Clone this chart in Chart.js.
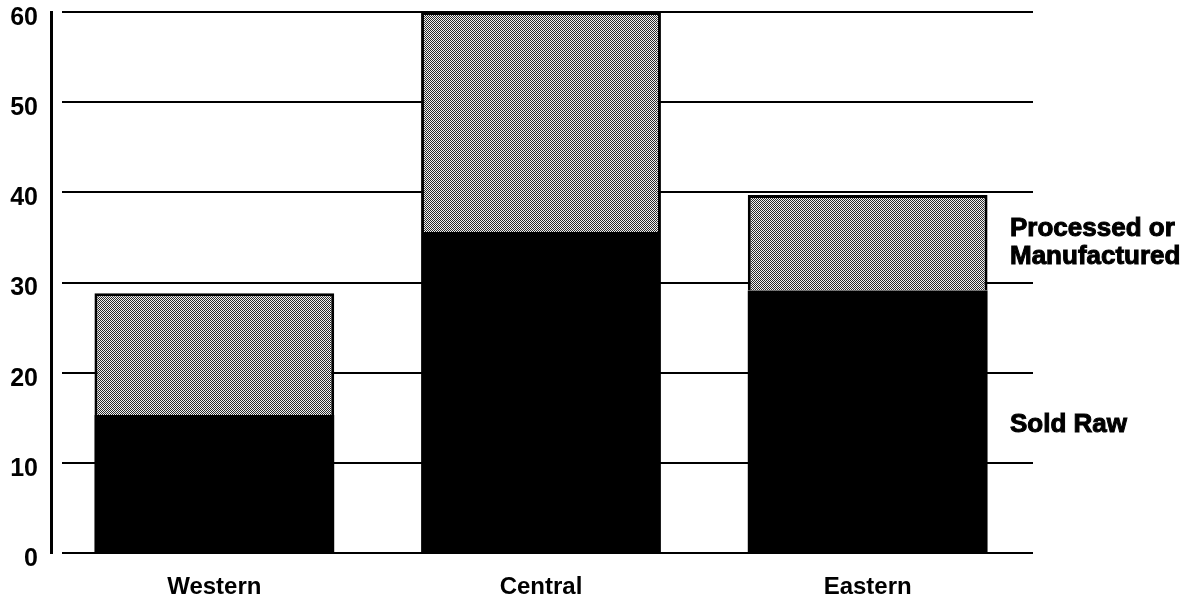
<!DOCTYPE html>
<html>
<head>
<meta charset="utf-8">
<script src="https://cdn.jsdelivr.net/npm/chart.js@4"></script>
<style>
  html, body { margin: 0; padding: 0; background: #fff; }
  #wrap { width: 1194px; height: 607px; }
</style>
</head>
<body>
<div id="wrap"><canvas id="c" width="1194" height="607"></canvas></div>
<script>
const categories = ["Western", "Central", "Eastern"];
const soldRaw = [15.3, 35.6, 29.1];
const processed = [13.5, 24.4, 10.6];
const yTicks = [0, 10, 20, 30, 40, 50, 60];
const seriesNames = ["Sold Raw", "Processed or Manufactured"];

function makePattern() {
  const p = document.createElement('canvas');
  p.width = 2; p.height = 2;
  const g = p.getContext('2d');
  g.fillStyle = '#f2f2f2'; g.fillRect(0, 0, 2, 2);
  g.fillStyle = '#2a2a2a';
  g.fillRect(0, 0, 1, 1);
  g.fillRect(1, 1, 1, 1);
  return document.getElementById('c').getContext('2d').createPattern(p, 'repeat');
}

const FONT = '"Liberation Sans", Arial, Helvetica, sans-serif';

const gridPlugin = {
  id: 'customGrid',
  beforeDatasetsDraw(chart) {
    const {ctx, chartArea, scales} = chart;
    ctx.save();
    ctx.strokeStyle = '#000';
    ctx.lineWidth = 2;
    yTicks.forEach(v => {
      const y = Math.round(scales.y.getPixelForValue(v));
      ctx.beginPath();
      ctx.moveTo(chartArea.left + 11, y);
      ctx.lineTo(chartArea.right + 2, y);
      ctx.stroke();
    });
    ctx.restore();
  }
};

const labelPlugin = {
  id: 'sideLabels',
  afterDraw(chart) {
    const {ctx, chartArea, scales} = chart;
    ctx.save();
    ctx.fillStyle = '#000';
    ctx.strokeStyle = '#000';
    ctx.lineWidth = 1;
    ctx.font = 'bold 26px ' + FONT;
    ctx.textBaseline = 'middle';
    ctx.textAlign = 'left';
    const x = chartArea.right - 21;
    const items = [['Processed or', 36.0], ['Manufactured', 32.8], [seriesNames[0], 14.2]];
    items.forEach(([t, v]) => {
      const y = scales.y.getPixelForValue(v);
      ctx.fillText(t, x, y);
      ctx.strokeText(t, x, y);
    });
    ctx.restore();
  }
};

const pattern = makePattern();

new Chart(document.getElementById('c'), {
  type: 'bar',
  data: {
    labels: categories,
    datasets: [
      {
        label: seriesNames[0],
        data: soldRaw,
        backgroundColor: '#000',
        borderWidth: 0,
        barPercentage: 0.734,
        categoryPercentage: 1.0
      },
      {
        label: seriesNames[1],
        data: processed,
        backgroundColor: pattern,
        borderColor: '#000',
        borderWidth: {top: 3, left: 3, right: 3, bottom: 0},
        borderSkipped: false,
        barPercentage: 0.734,
        categoryPercentage: 1.0
      }
    ]
  },
  options: {
    responsive: false,
    animation: false,
    devicePixelRatio: 1,
    layout: { padding: { top: 12, right: 163, left: 0, bottom: 0 } },
    plugins: {
      legend: { display: false },
      tooltip: { enabled: false }
    },
    scales: {
      x: {
        stacked: true,
        grid: { display: false, drawTicks: false },
        border: { display: false },
        ticks: {
          color: '#000',
          font: { family: FONT, size: 24, weight: 'bold' },
          padding: 20
        },
        afterFit(s) { s.height = 54; s.paddingLeft = 0; s.paddingRight = 0; }
      },
      y: {
        stacked: true,
        min: 0,
        max: 60,
        grid: { display: false, drawTicks: false },
        border: { display: true, color: '#000', width: 3 },
        ticks: {
          stepSize: 10,
          color: '#000',
          font: { family: FONT, size: 25, weight: 'bold' },
          padding: 13,
          labelOffset: 6
        },
        afterFit(s) { s.width = 51; s.paddingTop = 0; s.paddingBottom = 0; }
      }
    }
  },
  plugins: [gridPlugin, labelPlugin]
});
</script>
</body>
</html>
